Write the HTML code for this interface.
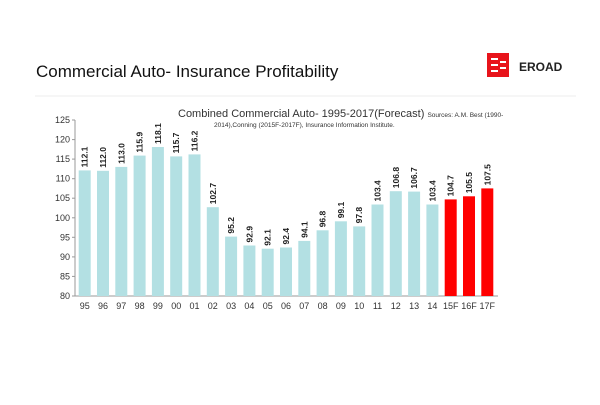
<!DOCTYPE html>
<html><head><style>
body{margin:0;width:600px;height:400px;background:#fff;overflow:hidden;font-family:"Liberation Sans",sans-serif;}
</style></head><body>
<svg width="600" height="400" xmlns="http://www.w3.org/2000/svg" font-family="Liberation Sans, sans-serif">
<text x="36" y="77" font-size="17" fill="#111">Commercial Auto- Insurance Profitability</text>
<line x1="35" y1="96" x2="576" y2="96" stroke="#eee" stroke-width="1"/>
<rect x="487" y="53" width="22" height="24" fill="#e8141b"/>
<g fill="#fff"><rect x="491" y="58" width="7" height="2"/><rect x="491" y="64" width="7" height="2"/><rect x="491" y="70" width="7" height="2"/><rect x="500" y="61" width="6" height="2"/><rect x="500" y="67" width="6" height="2"/></g>
<text x="519" y="71" font-size="12" font-weight="bold" fill="#222">EROAD</text>
<text x="178" y="117" font-size="11" fill="#333">Combined Commercial Auto- 1995-2017(Forecast) <tspan font-size="6.5">Sources: A.M. Best (1990-</tspan></text>
<text x="214" y="127" font-size="6.5" fill="#333">2014),Conning (2015F-2017F), Insurance Information Institute.</text>
<g font-size="9" fill="#333" text-anchor="end">
<text x="70" y="299">80</text><text x="70" y="279.4">85</text><text x="70" y="259.9">90</text><text x="70" y="240.3">95</text><text x="70" y="220.8">100</text><text x="70" y="201.2">105</text><text x="70" y="181.7">110</text><text x="70" y="162.1">115</text><text x="70" y="142.6">120</text><text x="70" y="123">125</text>
</g>
<g stroke="#999"><line x1="75" y1="120" x2="75" y2="296"/><line x1="75" y1="296" x2="498" y2="296"/>
<line x1="72" x2="75" y1="296" y2="296"/><line x1="72" x2="75" y1="276.4" y2="276.4"/><line x1="72" x2="75" y1="256.9" y2="256.9"/><line x1="72" x2="75" y1="237.3" y2="237.3"/><line x1="72" x2="75" y1="217.8" y2="217.8"/><line x1="72" x2="75" y1="198.2" y2="198.2"/><line x1="72" x2="75" y1="178.7" y2="178.7"/><line x1="72" x2="75" y1="159.1" y2="159.1"/><line x1="72" x2="75" y1="139.6" y2="139.6"/><line x1="72" x2="75" y1="120" y2="120"/></g>
<g fill="#b3e0e3">
<rect x="78.7" y="170.4" width="12" height="125.6"/>
<rect x="97.0" y="170.8" width="12" height="125.2"/>
<rect x="115.3" y="166.9" width="12" height="129.1"/>
<rect x="133.6" y="155.6" width="12" height="140.4"/>
<rect x="151.9" y="147.0" width="12" height="149.0"/>
<rect x="170.2" y="156.4" width="12" height="139.6"/>
<rect x="188.5" y="154.4" width="12" height="141.6"/>
<rect x="206.8" y="207.2" width="12" height="88.8"/>
<rect x="225.1" y="236.6" width="12" height="59.4"/>
<rect x="243.4" y="245.5" width="12" height="50.5"/>
<rect x="261.7" y="248.7" width="12" height="47.3"/>
<rect x="280.0" y="247.5" width="12" height="48.5"/>
<rect x="298.3" y="240.9" width="12" height="55.1"/>
<rect x="316.6" y="230.3" width="12" height="65.7"/>
<rect x="334.9" y="221.3" width="12" height="74.7"/>
<rect x="353.2" y="226.4" width="12" height="69.6"/>
<rect x="371.5" y="204.5" width="12" height="91.5"/>
<rect x="389.8" y="191.2" width="12" height="104.8"/>
<rect x="408.1" y="191.6" width="12" height="104.4"/>
<rect x="426.4" y="204.5" width="12" height="91.5"/>
</g>
<g fill="#f00">
<rect x="444.7" y="199.4" width="12" height="96.6"/>
<rect x="463.0" y="196.3" width="12" height="99.7"/>
<rect x="481.3" y="188.4" width="12" height="107.6"/>
</g>
<g font-size="9" fill="#333" text-anchor="middle">
<text x="84.7" y="309">95</text><text x="103.0" y="309">96</text><text x="121.3" y="309">97</text><text x="139.6" y="309">98</text><text x="157.9" y="309">99</text><text x="176.2" y="309">00</text><text x="194.5" y="309">01</text><text x="212.8" y="309">02</text><text x="231.1" y="309">03</text><text x="249.4" y="309">04</text><text x="267.7" y="309">05</text><text x="286.0" y="309">06</text><text x="304.3" y="309">07</text><text x="322.6" y="309">08</text><text x="340.9" y="309">09</text><text x="359.2" y="309">10</text><text x="377.5" y="309">11</text><text x="395.8" y="309">12</text><text x="414.1" y="309">13</text><text x="432.4" y="309">14</text><text x="450.7" y="309">15F</text><text x="469.0" y="309">16F</text><text x="487.3" y="309">17F</text>
</g>
<g font-size="8.5" font-weight="bold" fill="#222">
<text transform="translate(87.7,167.4) rotate(-90)">112.1</text>
<text transform="translate(106.0,167.8) rotate(-90)">112.0</text>
<text transform="translate(124.3,163.9) rotate(-90)">113.0</text>
<text transform="translate(142.6,152.6) rotate(-90)">115.9</text>
<text transform="translate(160.9,144.0) rotate(-90)">118.1</text>
<text transform="translate(179.2,153.4) rotate(-90)">115.7</text>
<text transform="translate(197.5,151.4) rotate(-90)">116.2</text>
<text transform="translate(215.8,204.2) rotate(-90)">102.7</text>
<text transform="translate(234.1,233.6) rotate(-90)">95.2</text>
<text transform="translate(252.4,242.5) rotate(-90)">92.9</text>
<text transform="translate(270.7,245.7) rotate(-90)">92.1</text>
<text transform="translate(289.0,244.5) rotate(-90)">92.4</text>
<text transform="translate(307.3,237.9) rotate(-90)">94.1</text>
<text transform="translate(325.6,227.3) rotate(-90)">96.8</text>
<text transform="translate(343.9,218.3) rotate(-90)">99.1</text>
<text transform="translate(362.2,223.4) rotate(-90)">97.8</text>
<text transform="translate(380.5,201.5) rotate(-90)">103.4</text>
<text transform="translate(398.8,188.2) rotate(-90)">106.8</text>
<text transform="translate(417.1,188.6) rotate(-90)">106.7</text>
<text transform="translate(435.4,201.5) rotate(-90)">103.4</text>
<text transform="translate(453.7,196.4) rotate(-90)">104.7</text>
<text transform="translate(472.0,193.3) rotate(-90)">105.5</text>
<text transform="translate(490.3,185.4) rotate(-90)">107.5</text>
</g>
</svg>
</body></html>
